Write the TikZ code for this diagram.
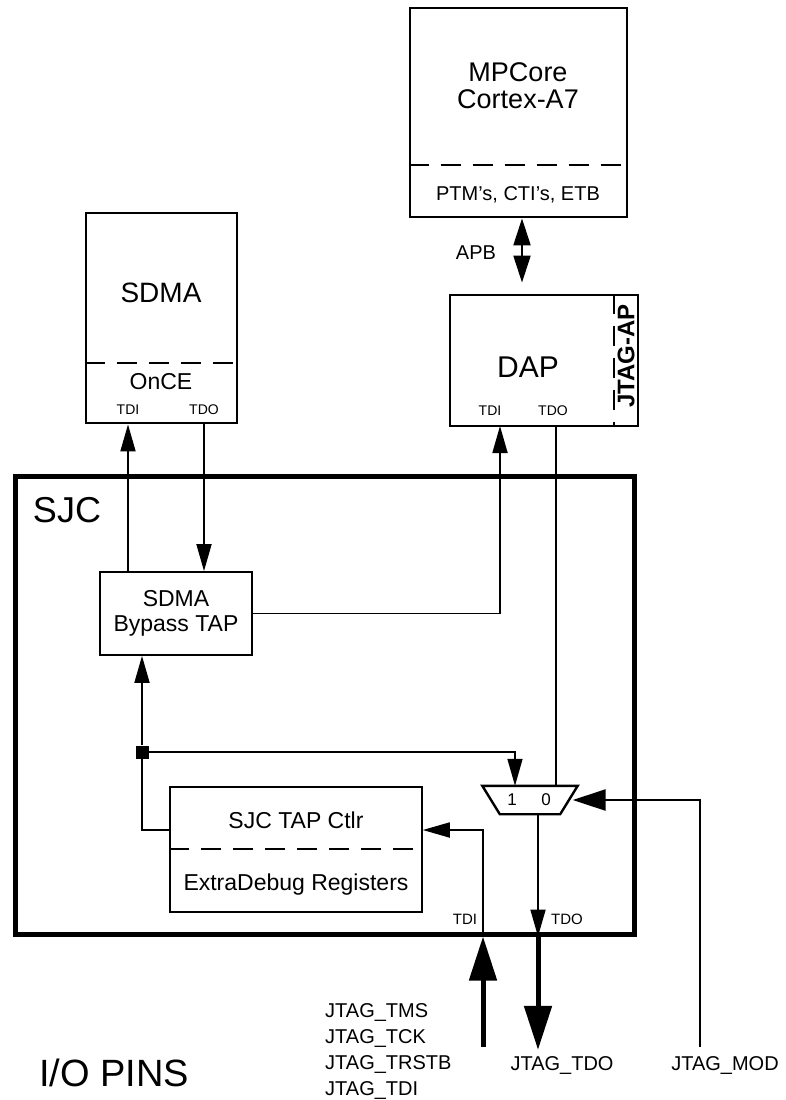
\documentclass[tikz,border=0pt]{standalone}
\usepackage{fontspec}
\setmainfont{Liberation Sans}
\usetikzlibrary{arrows.meta,positioning,shapes.geometric}

\newcommand{\fsz}[1]{\fontsize{#1}{#1}\selectfont}

\begin{document}
\begin{tikzpicture}[x=1pt,y=-1pt,
      box/.style={draw,line width=2.8pt,inner sep=0pt},
      sbox/.style={draw,line width=1.8pt,inner sep=0pt,align=center},
      div/.style={line width=2.6pt,dash pattern=on 20pt off 12pt},
      lbl/.style={inner sep=0pt},
      ar/.style={-{Triangle[length=27pt,width=15pt]},line width=1.8pt},
      modar/.style={-{Triangle[length=33pt,width=21pt]},line width=2.6pt},
      bigar/.style={-{Triangle[length=44pt,width=27pt]},line width=5pt},
      dbl/.style={{Triangle[length=27pt,width=17pt]}-{Triangle[length=27pt,width=17pt]},line width=2pt}]
    \useasboundingbox (0,0) rectangle (785,1100);

    % MPCore
    \node[box,minimum width=217pt,minimum height=209pt] (mpcore) at (518.5,112.5) {};
    \draw[div] (mpcore.west |- 0,165) -- (mpcore.east |- 0,165);
    \node[lbl,align=center,font=\fontsize{27}{27}\selectfont] (mpname) at (518,86) {MPCore\\Cortex-A7};
    \node[lbl,font=\fsz{20}] (mpdbg) at (518,195) {PTM’s, CTI’s, ETB};

    % SDMA
    \node[box,minimum width=151pt,minimum height=210pt] (sdma) at (161.5,318) {};
    \draw[div] (sdma.west |- 0,363) -- (sdma.east |- 0,363);
    \node[lbl,font=\fsz{28}] (sdmaname) at (161,293) {SDMA};
    \node[lbl,font=\fsz{23}] (once) at (161,382) {OnCE};
    \node[lbl,font=\fsz{14}] (sdmai) at (128,410) {TDI};
    \node[lbl,font=\fsz{14}] (sdmao) at (204,410) {TDO};

    % DAP
    \node[box,minimum width=188pt,minimum height=131pt] (dap) at (544,360.5) {};
    \draw[div] (dap.north -| 614,0) -- (dap.south -| 614,0);
    \node[lbl,font=\fsz{30}] (dapname) at (528,367) {DAP};
    \node[lbl,font=\bfseries\fsz{24},rotate=90] (jtagap) at (626,356) {JTAG-AP};
    \node[lbl,font=\fsz{14}] (dapi) at (490,411) {TDI};
    \node[lbl,font=\fsz{14}] (dapo) at (553,411) {TDO};
    \coordinate (daptdi) at (500,426);
    \coordinate (apbx) at (522,250);
    \node[lbl,font=\fsz{20}] (apb) at (476,253) {APB};

    % SJC
    \node[draw,line width=5pt,minimum width=619pt,minimum height=458pt] (sjc) at (324.5,705) {};
    \node[lbl,font=\fsz{36}] (sjcname) at (67,510) {SJC};
    \node[sbox,minimum width=152pt,minimum height=83pt,font=\fontsize{23}{25}\selectfont] (bypass) at (176,613.5) {SDMA\\Bypass TAP};
    \node[draw,line width=1.5pt,minimum width=252pt,minimum height=125pt] (tapctl) at (296,849.5) {};
    \draw[line width=2pt,dash pattern=on 20pt off 12pt] (tapctl.west |- 0,849) -- (tapctl.east |- 0,849);
    \node[lbl,font=\fsz{23}] (tapname) at (296,820) {SJC TAP Ctlr};
    \node[lbl,font=\fsz{23}] (extra) at (296,885) {ExtraDebug Registers};
    \node[minimum width=95pt,minimum height=28pt,inner sep=0pt] (mux) at (530,800) {};
    \draw[line width=2.4pt,line join=miter] (mux.north west) -- (mux.north east)
      -- ([xshift=-17.5pt]mux.south east) -- ([xshift=17.5pt]mux.south west) -- cycle;
    \node[lbl,font=\fsz{17}] (muxa) at (512,800) {1};
    \node[lbl,font=\fsz{17}] (muxb) at (546,800) {0};
    \node[fill,minimum size=13pt,inner sep=0pt] (jn) at (142,752) {};
    \node[lbl,font=\fsz{15}] (pini) at (465,919) {TDI};
    \node[lbl,font=\fsz{15}] (pino) at (567,919) {TDO};

    % I/O pins
    \node[lbl,align=left,anchor=north west,font=\fontsize{20}{26}\selectfont] (jtagin) at (325,1003)
      {JTAG\_TMS\\JTAG\_TCK\\JTAG\_TRSTB\\JTAG\_TDI};
    \node[lbl,font=\fsz{20}] (jtdo) at (562,1065) {JTAG\_TDO};
    \node[lbl,font=\fsz{20}] (jmod) at (725,1065) {JTAG\_MOD};
    \node[lbl,font=\fsz{38}] (iopins) at (114,1073) {I/O PINS};
    \coordinate (pinin) at (483,1047);
    \coordinate (pinmod) at (700,1047);

    % connections
    \draw[dbl,shorten >=11pt] (mpcore.south -| apbx) -- (dap.north -| apbx);
    \draw[ar] (sdmai |- bypass.north) -- (sdmai |- sdma.south);
    \draw[ar] (sdmao |- sdma.south) -- (sdmao |- bypass.north);
    \draw[ar] (bypass.east) -| (daptdi);
    \draw[line width=1.8pt] ([xshift=26pt]mux.north |- dap.south) -- ([xshift=26pt]mux.north);
    \draw[ar] (jn) -- (jn |- bypass.south);
    \draw[ar,line width=1.5pt] (jn) -| ([xshift=-15pt]mux.north);
    \draw[line width=1.8pt] (jn) |- ([yshift=19.5pt]tapctl.west);
    \draw[ar] (pinin |- sjc.south) |- ([yshift=19.5pt]tapctl.east);
    \draw[bigar] (pinin) -- (pinin |- sjc.south);
    \draw[ar] ([xshift=8pt]mux.south) -- ([xshift=8pt]mux.south |- sjc.south);
    \draw[bigar,shorten >=6pt] ([xshift=8pt]mux.south |- sjc.south) -- ([xshift=8pt]mux.south |- jtdo.north);
    \draw[modar] (pinmod) |- ([xshift=-5pt]mux.east);
\end{tikzpicture}
\end{document}
